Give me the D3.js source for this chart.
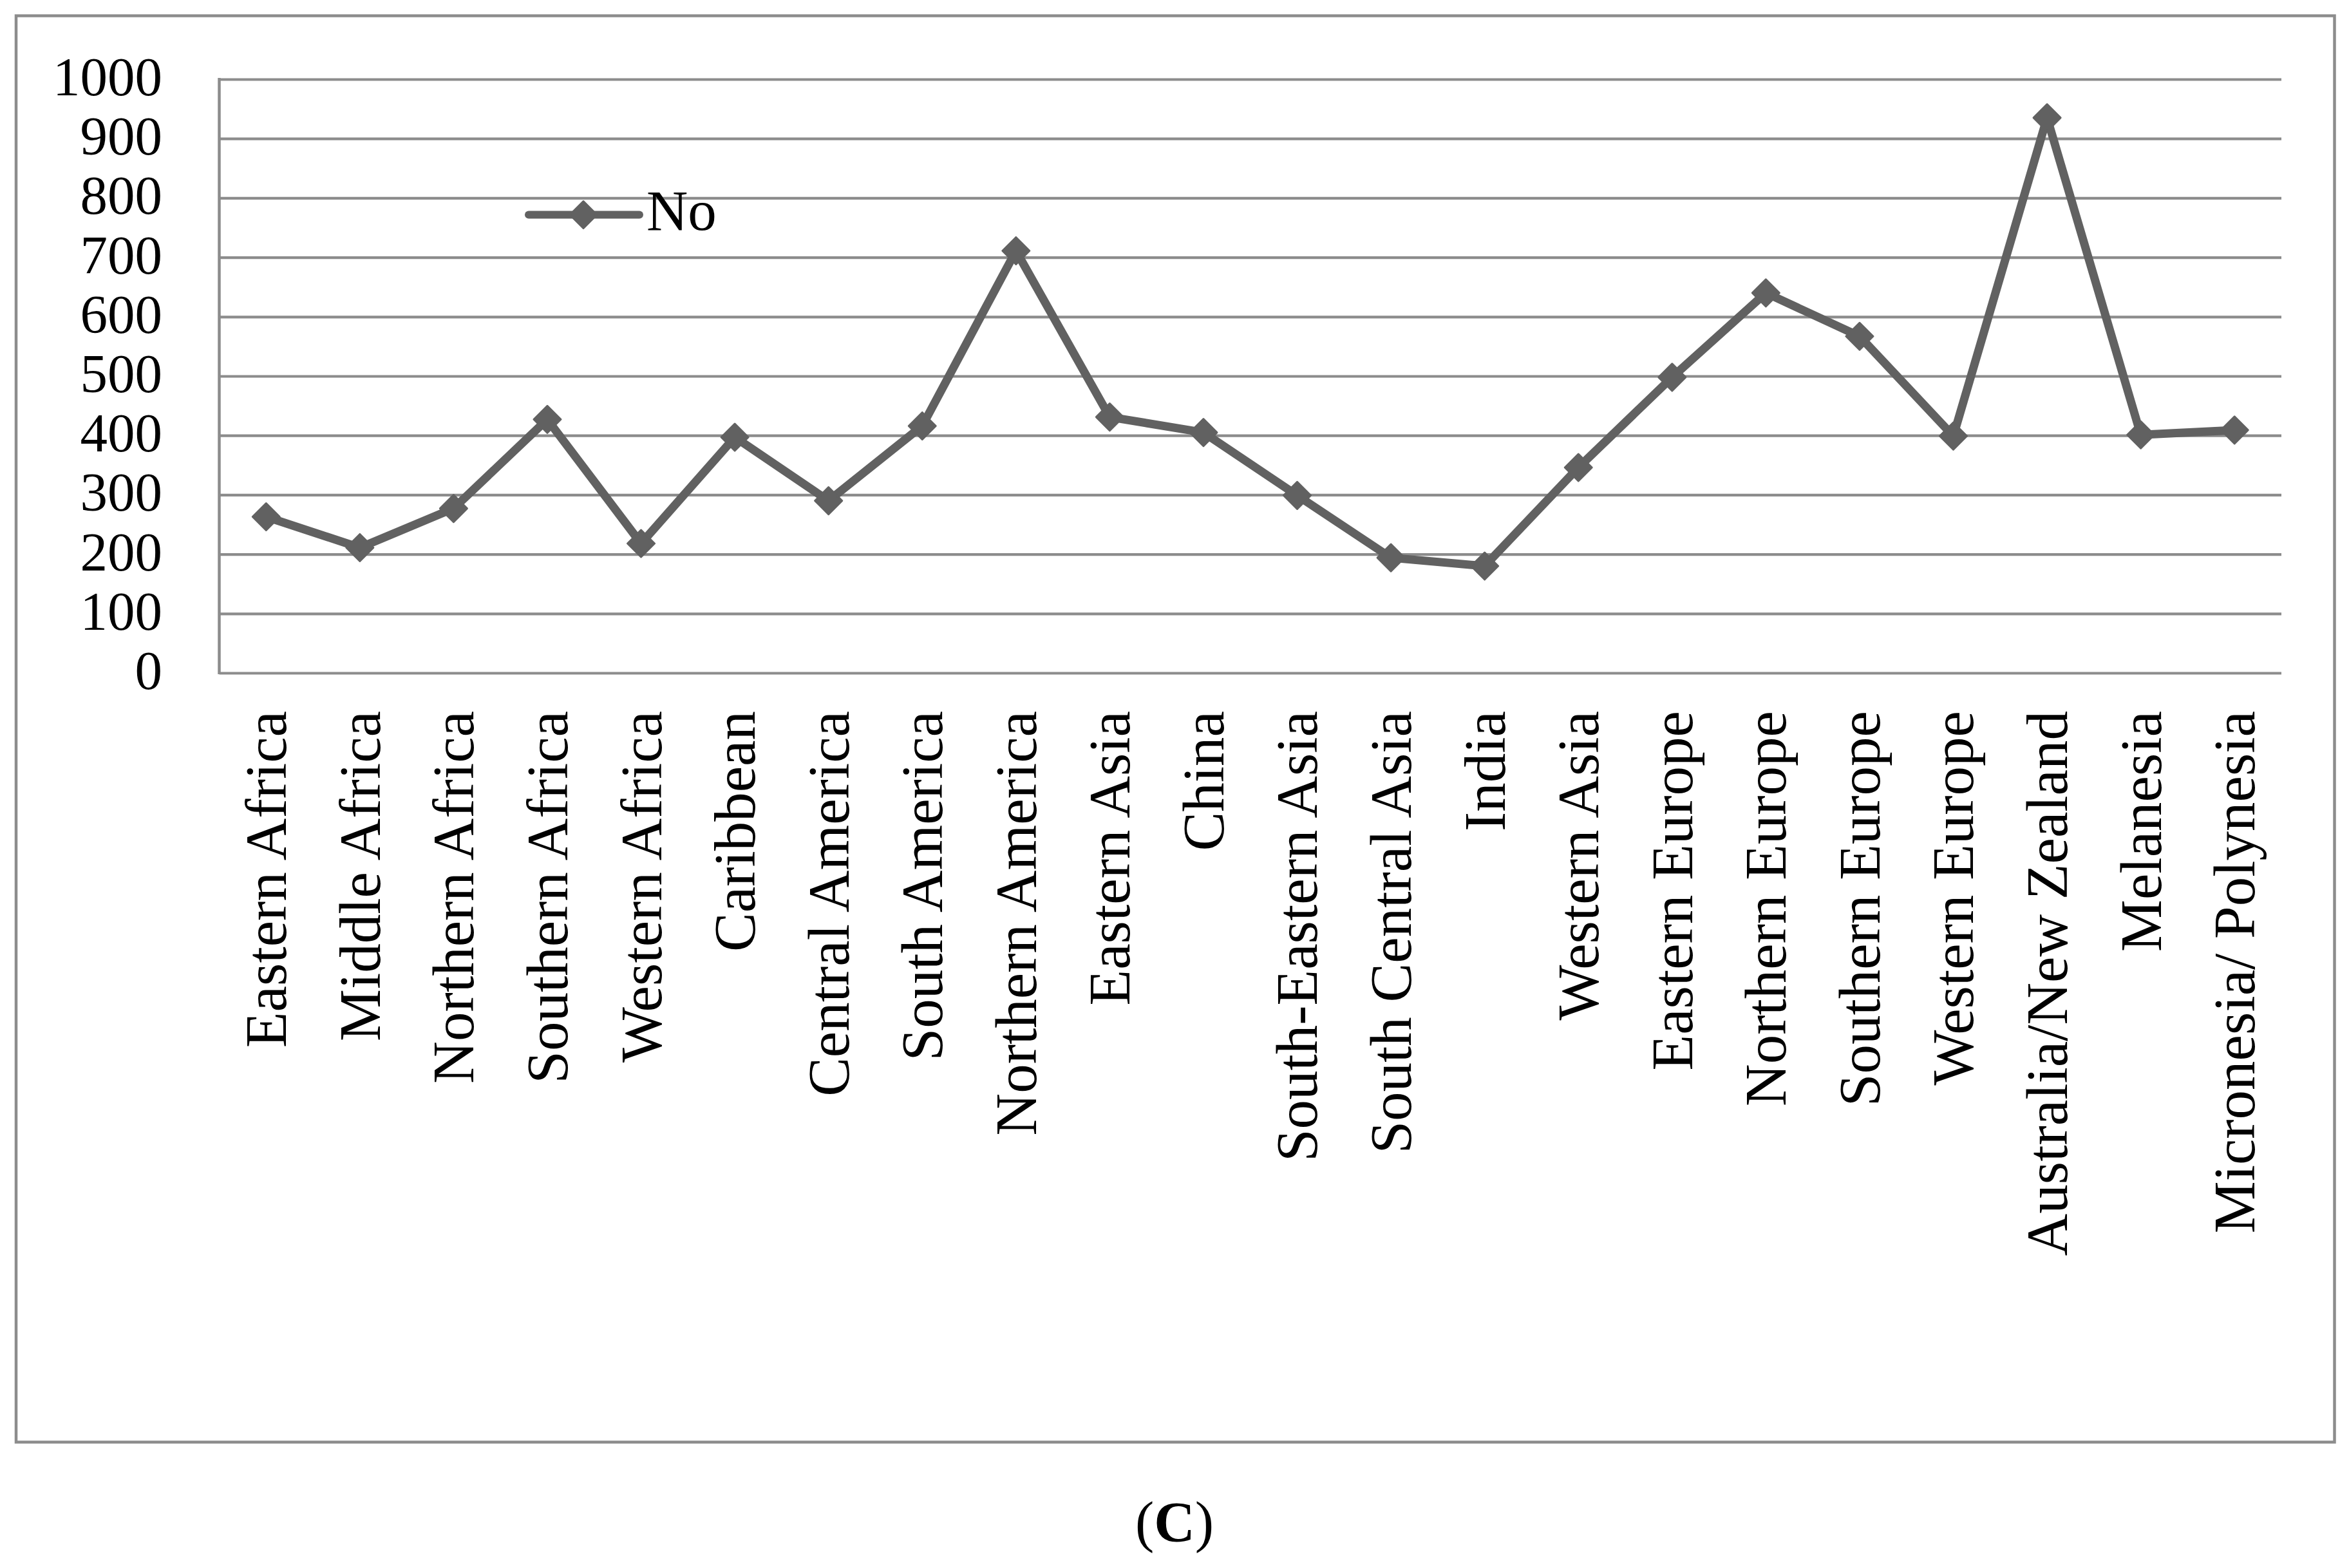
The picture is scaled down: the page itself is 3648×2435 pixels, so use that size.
<!DOCTYPE html>
<html>
<head>
<meta charset="utf-8">
<script src="https://cdn.jsdelivr.net/npm/d3@7"></script>
<style>
  html, body { margin: 0; padding: 0; background: #ffffff; }
  svg { display: block; }
  text { font-family: "Liberation Serif", "Times New Roman", serif; fill: #000; }
</style>
</head>
<body>
<script>
const categories = [
  "Eastern Africa", "Middle Africa", "Northern Africa", "Southern Africa", "Western Africa",
  "Caribbean", "Central America", "South America", "Northern America", "Eastern Asia",
  "China", "South-Eastern Asia", "South Central Asia", "India", "Western Asia",
  "Eastern Europe", "Northern Europe", "Southern Europe", "Western Europe",
  "Australia/New Zealand", "Melanesia", "Micronesia/ Polynesia"
];
const seriesName = "No";
const values = [263, 211, 277, 427, 218, 397, 290, 416, 711, 431, 405, 299, 194, 180, 346, 498, 640, 567, 399, 935, 401, 409];
const yTicks = [0, 100, 200, 300, 400, 500, 600, 700, 800, 900, 1000];
const caption = "C";

const W = 3648, H = 2435;
const plot = { left: 340.5, right: 3543, top: 123, bottom: 1045 };
const gridColor = "#8c8c8c";
const lineColor = "#616161";

const svg = d3.select("body").append("svg")
  .attr("width", W).attr("height", H)
  .attr("viewBox", `0 0 ${W} ${H}`);

svg.append("rect").attr("width", W).attr("height", H).attr("fill", "#fff");

// outer frame
svg.append("rect")
  .attr("x", 25).attr("y", 24.5)
  .attr("width", 3625.5 - 25).attr("height", 2239.5 - 24.5)
  .attr("fill", "none").attr("stroke", gridColor).attr("stroke-width", 4.5);

const x = d3.scaleBand().domain(categories).range([plot.left, plot.right]).padding(0);
const y = d3.scaleLinear().domain([0, 1000]).range([plot.bottom, plot.top]);

// gridlines
const grid = svg.append("g")
  .attr("transform", `translate(${plot.left},0)`)
  .call(d3.axisLeft(y).tickValues(yTicks).tickSize(-(plot.right - plot.left)).tickFormat(""));
grid.select(".domain").remove();
grid.selectAll(".tick line").attr("stroke", gridColor).attr("stroke-width", 4.2);

// left axis line
svg.append("line")
  .attr("x1", plot.left).attr("x2", plot.left)
  .attr("y1", y(1000) - 2).attr("y2", y(0) + 2)
  .attr("stroke", gridColor).attr("stroke-width", 4.5);

// y tick labels
const yAxis = svg.append("g")
  .attr("transform", `translate(252,0)`)
  .call(d3.axisLeft(y).tickValues(yTicks).tickSize(0).tickPadding(0).tickFormat(d3.format("d")));
yAxis.select(".domain").remove();
yAxis.selectAll(".tick text")
  .attr("x", 0).attr("dy", 24.5)
  .attr("text-anchor", "end")
  .style("font-size", "85px")
  .style("font-family", "'Liberation Serif', 'Times New Roman', serif")
  .attr("fill", "#000");

// x category labels
const xAxis = svg.append("g")
  .attr("transform", `translate(0,${plot.bottom})`)
  .call(d3.axisBottom(x).tickSize(0).tickPadding(0));
xAxis.select(".domain").remove();
xAxis.selectAll(".tick text")
  .attr("text-anchor", "end")
  .attr("transform", "translate(0,59) rotate(-90)")
  .attr("x", 0).attr("y", 0).attr("dy", "0.34em")
  .style("font-size", "91px")
  .style("font-family", "'Liberation Serif', 'Times New Roman', serif")
  .attr("fill", "#000");

// series line
const cx = d => x(d) + x.bandwidth() / 2;
const data = categories.map((c, i) => ({ c, v: values[i] }));
svg.append("path")
  .datum(data)
  .attr("fill", "none")
  .attr("stroke", lineColor)
  .attr("stroke-width", 13)
  .attr("stroke-linejoin", "round")
  .attr("stroke-linecap", "round")
  .attr("d", d3.line().x(d => cx(d.c)).y(d => y(d.v)));

const diamond = r => `M0,${-r}L${r},0L0,${r}L${-r},0Z`;
svg.append("g").selectAll("path")
  .data(data).join("path")
  .attr("transform", d => `translate(${cx(d.c)},${y(d.v)})`)
  .attr("d", diamond(21))
  .attr("fill", lineColor)
  .attr("stroke", lineColor).attr("stroke-width", 3).attr("stroke-linejoin", "round");

// legend
const lg = svg.append("g");
lg.append("line").attr("x1", 821).attr("x2", 993).attr("y1", 333.5).attr("y2", 333.5)
  .attr("stroke", lineColor).attr("stroke-width", 12).attr("stroke-linecap", "round");
lg.append("path").attr("transform", "translate(906,333.5)").attr("d", diamond(21))
  .attr("fill", lineColor).attr("stroke", lineColor).attr("stroke-width", 3).attr("stroke-linejoin", "round");
lg.append("text").attr("x", 1004).attr("y", 357)
  .style("font-size", "89px").text(seriesName);

// caption
const cap = svg.append("text").attr("x", W / 2).attr("y", 2393)
  .attr("text-anchor", "middle").style("font-size", "88px");
cap.append("tspan").text("(");
cap.append("tspan").style("font-weight", "bold").text(caption);
cap.append("tspan").text(")");
</script>
</body>
</html>
